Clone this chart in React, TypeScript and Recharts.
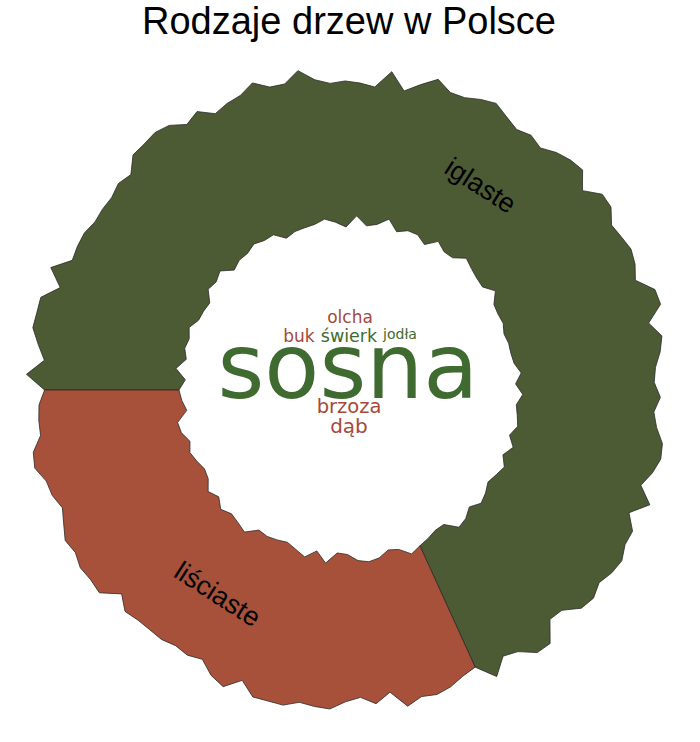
import React from 'react';
import { PieChart, Pie, Cell, Customized } from 'recharts';

// ---- data ----
const categories = ['iglaste', 'liściaste'];
const shares = [68.2, 31.8];
const sliceColors = ['#4c5b33', '#a8513a'];

const cloudWords = ['sosna', 'świerk', 'jodła', 'buk', 'dąb', 'brzoza', 'olcha'];
const cloudWeights = [90, 17.5, 14, 17, 20, 19.5, 17];
const cloudGroups = ['iglaste', 'iglaste', 'iglaste', 'liściaste', 'liściaste', 'liściaste', 'liściaste'];
const groupTextColors: Record<string, string> = { iglaste: '#3f6a30', 'liściaste': '#a4493c' };

const title = 'Rodzaje drzew w Polsce';

// ---- layout (style only) ----
const W = 700;
const H = 742;
const CX = 349;
const CY = 390;
const INNER = 170;
const OUTER = 314;
// word-cloud placement offsets (dx, baseline dy) relative to centre
const cloudLayout: Record<string, [number, number]> = {
  sosna: [-1, 8],
  'świerk': [0, -48],
  'jodła': [51, -51],
  buk: [-50, -48],
  'dąb': [0, 43],
  brzoza: [0, 23],
  olcha: [1, -67],
};

const pieData = categories.map((name, i) => ({ name, value: shares[i] }));

// deterministic edge roughness (decoration only)
function edgeNoise(angle: number, seed: number) {
  const a = ((angle % 360) + 360) % 360;
  const k = Math.round(a * 100);
  const v = Math.sin(k * 12.9898 + seed * 78.233) * 43758.5453;
  return (v - Math.floor(v)) * 2 - 1;
}

const RAD = Math.PI / 180;
function pt(cx: number, cy: number, r: number, a: number) {
  return [cx + r * Math.cos(a * RAD), cy - r * Math.sin(a * RAD)];
}

function roughSectorPath(cx: number, cy: number, ri: number, ro: number, a0: number, a1: number) {
  const span = a1 - a0;
  const nOut = Math.max(2, Math.ceil(Math.abs(span) / 2.8));
  const nIn = Math.max(2, Math.ceil(Math.abs(span) / 3.6));
  const pts: number[][] = [];
  for (let i = 0; i <= nOut; i++) {
    const a = a0 + (span * i) / nOut;
    const r = ro + edgeNoise(a, 1) * 10;
    pts.push(pt(cx, cy, r, a));
  }
  for (let i = nIn; i >= 0; i--) {
    const a = a0 + (span * i) / nIn;
    const r = ri + edgeNoise(a, 2) * 7;
    pts.push(pt(cx, cy, r, a));
  }
  return 'M' + pts.map((p) => p[0].toFixed(2) + ',' + p[1].toFixed(2)).join('L') + 'Z';
}

const renderSlice = (props: any) => {
  const { cx, cy, startAngle, endAngle, innerRadius, outerRadius, midAngle, index } = props;
  const d = roughSectorPath(cx, cy, innerRadius, outerRadius, startAngle, endAngle);
  const mr = (innerRadius + outerRadius) / 2 + 1;
  const [lx, ly] = pt(cx, cy, mr, midAngle);
  let rot = 90 - midAngle;
  while (rot > 90) rot -= 180;
  while (rot < -90) rot += 180;
  return (
    <g key={'slice-' + index}>
      <path d={d} fill={sliceColors[index]} stroke="#2a2a2a" strokeWidth={0.8} strokeLinejoin="miter" />
      <text
        x={lx}
        y={ly}
        transform={`rotate(${rot} ${lx} ${ly})`}
        textAnchor="middle"
        dominantBaseline="central"
        fontFamily="'Liberation Sans', Arial, sans-serif"
        fontSize={27}
        fill="#000"
      >
        {props.name}
      </text>
    </g>
  );
};

const Overlay = () => (
  <g>
    <text
      x={CX}
      y={34}
      textAnchor="middle"
      fontFamily="'Liberation Sans', Arial, sans-serif"
      fontSize={38}
      fill="#000"
    >
      {title}
    </text>
    {cloudWords.map((w, i) => {
      const [dx, dy] = cloudLayout[w];
      return (
        <text
          key={w}
          x={CX + dx}
          y={CY + dy}
          textAnchor="middle"
          fontFamily="'DejaVu Sans', sans-serif"
          fontSize={cloudWeights[i]}
          fill={groupTextColors[cloudGroups[i]]}
        >
          {w}
        </text>
      );
    })}
  </g>
);

export default function App() {
  return (
    <div style={{ position: 'absolute', left: 0, top: 0, width: W, height: H, background: '#fff' }}>
      <PieChart width={W} height={H} margin={{ top: 0, right: 0, bottom: 0, left: 0 }}>
        <Pie
          data={pieData}
          dataKey="value"
          nameKey="name"
          cx={CX}
          cy={CY}
          innerRadius={INNER}
          outerRadius={OUTER}
          startAngle={180}
          endAngle={-180}
          stroke="none"
          label={renderSlice}
          labelLine={false}
          isAnimationActive={false}
        >
          {pieData.map((d) => (
            <Cell key={d.name} fill="transparent" stroke="none" />
          ))}
        </Pie>
        <Customized component={Overlay} />
      </PieChart>
    </div>
  );
}
